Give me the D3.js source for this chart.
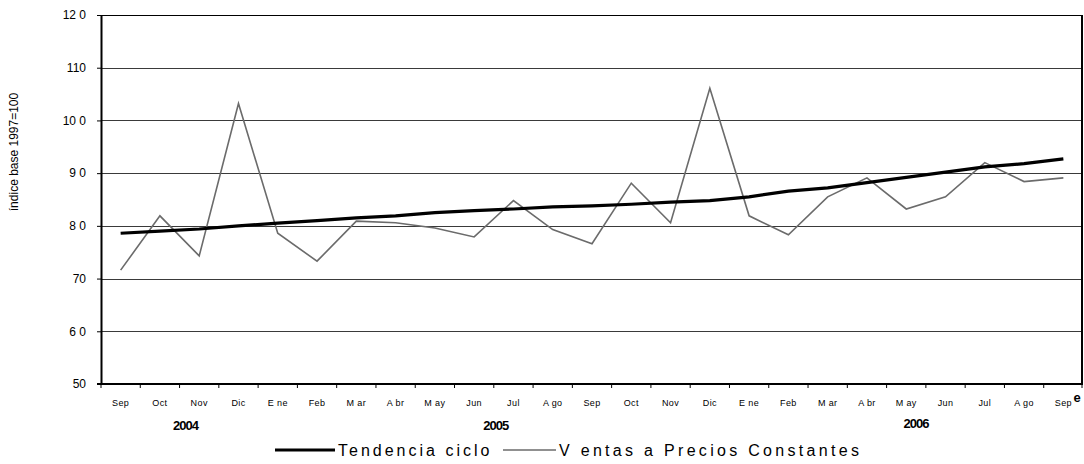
<!DOCTYPE html>
<html>
<head>
<meta charset="utf-8">
<script src="https://cdn.jsdelivr.net/npm/d3@7"></script>
<style>
  body { margin: 0; background: #fff; }
  svg { display: block; font-family: "Liberation Sans", Arial, sans-serif; }
</style>
</head>
<body>
<div id="chart"></div>
<script>
// months Sep 2004 .. Sep 2006
const months = ["Sep", "Oct", "Nov", "Dic", "E ne", "Feb", "M ar", "A br", "M ay", "Jun", "Jul", "A go",
    "Sep", "Oct", "Nov", "Dic", "E ne", "Feb", "M ar", "A br", "M ay", "Jun", "Jul", "A go", "Sep"];

const tendencia = [78.6, 79.0, 79.4, 80.0, 80.5, 81.0, 81.5, 81.9, 82.5, 82.9, 83.2, 83.6,
    83.8, 84.1, 84.5, 84.8, 85.5, 86.6, 87.2, 88.2, 89.2, 90.2, 91.2, 91.8, 92.7];

const ventas = [71.6, 81.9, 74.3, 103.2, 78.6, 73.3, 80.9, 80.6, 79.6, 77.9, 84.8, 79.3,
    76.6, 88.1, 80.6, 106.1, 81.9, 78.3, 85.5, 89.1, 83.2, 85.5, 92.0, 88.4, 89.1];

const yTicks = [50, 60, 70, 80, 90, 100, 110, 120];
const yTickLabels = ["50", "6 0", "70", "8 0", "9 0", "10 0", "110", "12 0"];

// year labels placed under a (fractional) month index
const years = [{ label: "2004", at: 1.65 }, { label: "2005", at: 9.55 }, { label: "2006", at: 20.25 }];

const W = 1084, H = 464;
const margin = { top: 15, right: 1, bottom: 80, left: 101 };

const svg = d3.select("#chart").append("svg")
    .attr("width", W)
    .attr("height", H);

const x = d3.scaleBand()
    .domain(d3.range(months.length))
    .range([margin.left, W - margin.right]);

const y = d3.scaleLinear()
    .domain([50, 120])
    .range([H - margin.bottom, margin.top]);

const cx = i => x(0) + x.step() * i + x.bandwidth() / 2;

// gridlines
svg.append("g")
    .selectAll("line")
    .data(yTicks.slice(1))
    .enter()
    .append("line")
    .attr("x1", margin.left)
    .attr("x2", W - margin.right)
    .attr("y1", d => Math.round(y(d)) + 0.5)
    .attr("y2", d => Math.round(y(d)) + 0.5)
    .attr("stroke", d => d == 120 ? "#000" : "#3a3a3a")
    .attr("stroke-width", 1);

// right border
svg.append("line")
    .attr("x1", W - margin.right - 1).attr("x2", W - margin.right - 1)
    .attr("y1", margin.top).attr("y2", y(50))
    .attr("stroke", "#000").attr("stroke-width", 2);

// y axis
const yAxis = svg.append("g")
    .attr("transform", "translate(" + margin.left + ",0)")
    .call(d3.axisLeft(y).tickValues(yTicks).tickSize(4).tickSizeOuter(0)
        .tickFormat((d, i) => yTickLabels[i]));
yAxis.select(".domain").attr("stroke-width", 2);
yAxis.selectAll(".tick line").attr("stroke-width", 1);
yAxis.selectAll("text")
    .attr("x", -15)
    .style("font-size", "12px")
    .attr("fill", "#000");

// x axis - ticks at band boundaries
const xAxis = svg.append("g")
    .attr("transform", "translate(0," + y(50) + ")");
xAxis.append("line")
    .attr("x1", margin.left - 4).attr("x2", W - margin.right)
    .attr("stroke", "#000").attr("stroke-width", 2);
xAxis.selectAll(".tk")
    .data(d3.range(months.length + 1))
    .enter()
    .append("line")
    .attr("x1", i => i < months.length ? x(i) : W - margin.right - 1)
    .attr("x2", i => i < months.length ? x(i) : W - margin.right - 1)
    .attr("y1", 0).attr("y2", 4)
    .attr("stroke", "#000");
xAxis.selectAll(".mlab")
    .data(months)
    .enter()
    .append("text")
    .attr("x", (d, i) => cx(i))
    .attr("y", 22)
    .attr("text-anchor", "middle")
    .style("font-size", "9px")
    .style("letter-spacing", "0.4px")
    .text(d => d);

svg.selectAll(".year")
    .data(years)
    .enter()
    .append("text")
    .attr("x", d => cx(d.at))
    .attr("y", (d, i) => i == 2 ? 428 : 430)
    .attr("text-anchor", "middle")
    .style("font-size", "13px")
    .style("font-weight", "bold")
    .style("letter-spacing", "-1px")
    .text(d => d.label);

svg.append("text")
    .attr("x", 1077)
    .attr("y", 402)
    .attr("text-anchor", "middle")
    .style("font-size", "13px")
    .style("font-weight", "bold")
    .text("e");

// y title
svg.append("text")
    .attr("transform", "translate(18,152) rotate(-90)")
    .attr("text-anchor", "middle")
    .style("font-size", "12px")
    .text("índice base 1997=100");

// series
const line = d3.line()
    .x((d, i) => cx(i))
    .y(d => y(d));

svg.append("path")
    .datum(ventas)
    .attr("d", line)
    .attr("fill", "none")
    .attr("stroke", "#6b6b6b")
    .attr("stroke-width", 1.6);

svg.append("path")
    .datum(tendencia)
    .attr("d", line)
    .attr("fill", "none")
    .attr("stroke", "#000")
    .attr("stroke-width", 3.2);

// legend
const legend = svg.append("g");
legend.append("line")
    .attr("x1", 275).attr("x2", 335).attr("y1", 450).attr("y2", 450)
    .attr("stroke", "#000").attr("stroke-width", 3.2);
legend.append("text")
    .attr("x", 338).attr("y", 456)
    .style("font-size", "16px")
    .style("letter-spacing", "3px")
    .text("Tendencia ciclo");
legend.append("line")
    .attr("x1", 503).attr("x2", 556).attr("y1", 450).attr("y2", 450)
    .attr("stroke", "#6b6b6b").attr("stroke-width", 1.6);
legend.append("text")
    .attr("x", 559).attr("y", 456)
    .style("font-size", "16px")
    .style("letter-spacing", "3.3px")
    .text("V entas a Precios Constantes");
</script>
</body>
</html>
